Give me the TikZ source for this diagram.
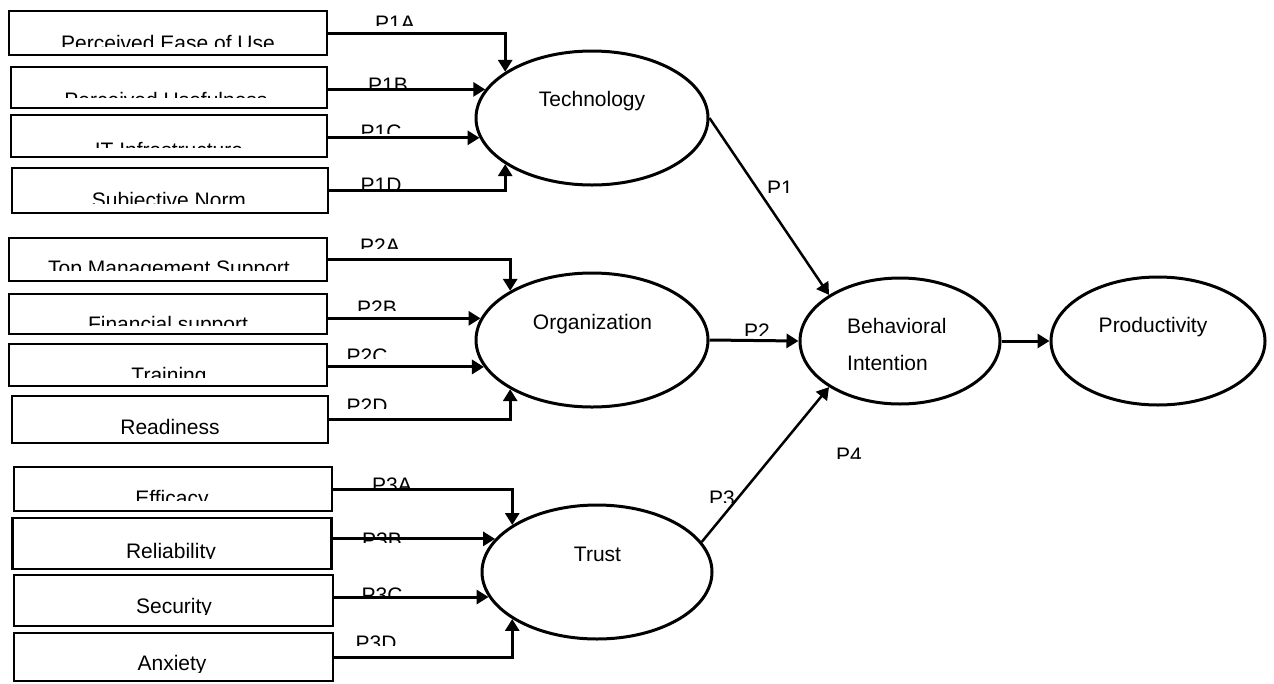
\documentclass[tikz,border=0pt]{standalone}
\usepackage{fontspec}
\setmainfont{Liberation Sans}
\usetikzlibrary{arrows.meta,shapes.geometric}

\tikzset{
  box/.style={draw, rectangle, line width=2.8pt, inner sep=0pt},
  construct/.style={draw, ellipse, line width=3pt, inner sep=0pt},
  txt/.style={inner sep=0pt, anchor=base},
  link/.style={line width=3pt, -{Triangle[length=12pt,width=14pt]}},
  slant/.style={line width=2.5pt, -{Triangle[length=12pt,width=14pt]}}
}

% a label whose lower part is cut off at a given height
% #1 name, #2 centre x, #3 cap top, #4 cut line, #5 text
\newcommand\cutlabel[5]{%
  \begin{scope}
    \clip ({#2-300},{#3-12}) rectangle ({#2+300},{#4});
    \node[txt] (#1) at (#2,{#3+15}) {#5};
  \end{scope}}

\begin{document}
\begin{tikzpicture}[x=1pt, y=-1pt, font=\fontsize{21}{25}\selectfont]
\useasboundingbox (0,0) rectangle (1274,683);
\fill[white] (0,0) rectangle (1274,683);

% ---- indicator boxes ----
\node[box, minimum width=318pt, minimum height=44pt] (b1)  at (168,33)    {};
\node[box, minimum width=316pt, minimum height=41pt] (b2)  at (169,87.5)  {};
\node[box, minimum width=316pt, minimum height=42pt] (b3)  at (169,136)   {};
\node[box, minimum width=316pt, minimum height=45pt] (b4)  at (170,190.5) {};
\node[box, minimum width=318pt, minimum height=43pt] (b5)  at (168,259.5) {};
\node[box, minimum width=318pt, minimum height=40pt] (b6)  at (168,314)   {};
\node[box, minimum width=318pt, minimum height=42pt] (b7)  at (168,365)   {};
\node[box, minimum width=316pt, minimum height=47pt] (b8)  at (170,419.5) {};
\node[box, minimum width=318pt, minimum height=44pt] (b9)  at (173,489)   {};
\node[box, minimum width=319pt, minimum height=51pt] (b10) at (172,543.5) {};
\node[box, minimum width=319pt, minimum height=51pt] (b11) at (173.5,600.5) {};
\node[box, minimum width=319pt, minimum height=48pt] (b12) at (173.5,657) {};

\cutlabel{t1}{168}{35}{46}{Perceived Ease of Use}
\cutlabel{t2}{166}{92}{97}{Perceived Usefulness}
\cutlabel{t3}{169}{142}{147}{IT Infrastructure}
\cutlabel{t4}{169}{192}{203}{Subjective Norm}
\cutlabel{t5}{169}{260}{270}{Top Management Support}
\cutlabel{t6}{168}{316}{325}{Financial support}
\cutlabel{t7}{169}{367}{377}{Training}
\node[txt] (t8) at (170,434) {Readiness};
\cutlabel{t9}{172}{490}{500}{Efficacy}
\cutlabel{t10}{171}{543}{558}{Reliability}
\cutlabel{t11}{174}{598}{614}{Security}
\cutlabel{t12}{172}{655}{672}{Anxiety}

% ---- constructs ----
\node[construct, minimum width=232pt, minimum height=134pt] (tech)  at (592,118)  {};
\node[construct, minimum width=232pt, minimum height=134pt] (org)   at (592,340)  {};
\node[construct, minimum width=230pt, minimum height=134pt] (trust) at (597,572)  {};
\node[construct, minimum width=200pt, minimum height=126pt] (bi)    at (900,341)  {};
\node[construct, minimum width=214pt, minimum height=128pt] (prod)  at (1158,341) {};

\node[txt] (techtxt)  at (592,106)   {Technology};
\node[txt] (orgtxt)   at (592.5,329) {Organization};
\node[txt] (trusttxt) at (597.5,561) {Trust};
\node[txt, anchor=base west] (bitxta) at (847,333) {Behavioral};
\node[txt, anchor=base west] (bitxtb) at (847,370) {Intention};
\node[txt] (prodtxt)  at (1153,332)  {Productivity};

% ---- indicator paths ----
\draw[link] (b1.east) -| (tech.152);
\draw[link] (b2.east |- tech.165) -- (tech.165);
\draw[link] (b3.east |- tech.190) -- (tech.190);
\draw[link] (b4.east) -| (tech.208);

\draw[link] (b5.east) -| (org.149);
\draw[link] (b6.east |- org.169) -- (org.169);
\draw[link] (b7.east |- org.194) -- (org.194);
\draw[link] (b8.east) -| (org.211);

\draw[link] (b9.east) -| (trust.151);
\draw[link] (b10.east |- trust.162) -- (trust.162);
\draw[link] (b11.east |- trust.193) -- (trust.193);
\draw[link] (b12.east) -| (trust.209);

\cutlabel{p1a}{395}{15}{25}{P1A}
\cutlabel{p1b}{388}{77}{87}{P1B}
\cutlabel{p1c}{381}{124}{133}{P1C}
\cutlabel{p1d}{381}{177}{188}{P1D}
\cutlabel{p2a}{380}{238}{248}{P2A}
\cutlabel{p2b}{377}{300}{310}{P2B}
\cutlabel{p2c}{367}{348}{358}{P2C}
\cutlabel{p2d}{367}{398}{408}{P2D}
\cutlabel{p3a}{392}{477}{488}{P3A}
\cutlabel{p3b}{382}{532}{542}{P3B}
\cutlabel{p3c}{382}{587}{597}{P3C}
\cutlabel{p3d}{376}{635}{645}{P3D}

% ---- structural paths ----
\draw[slant] (tech.east) -- (bi.147);
\draw[link] (org.east) -- (bi.west);
\draw[slant] (trust.16) -- (bi.213);
\draw[link] (bi.east) -- (prod.west);

\cutlabel{p1}{780}{180}{192}{P1}
\cutlabel{p2}{757}{323}{335}{P2}
\cutlabel{p3}{722}{490}{502}{P3}
\cutlabel{p4}{849}{447}{458}{P4}
\end{tikzpicture}
\end{document}
